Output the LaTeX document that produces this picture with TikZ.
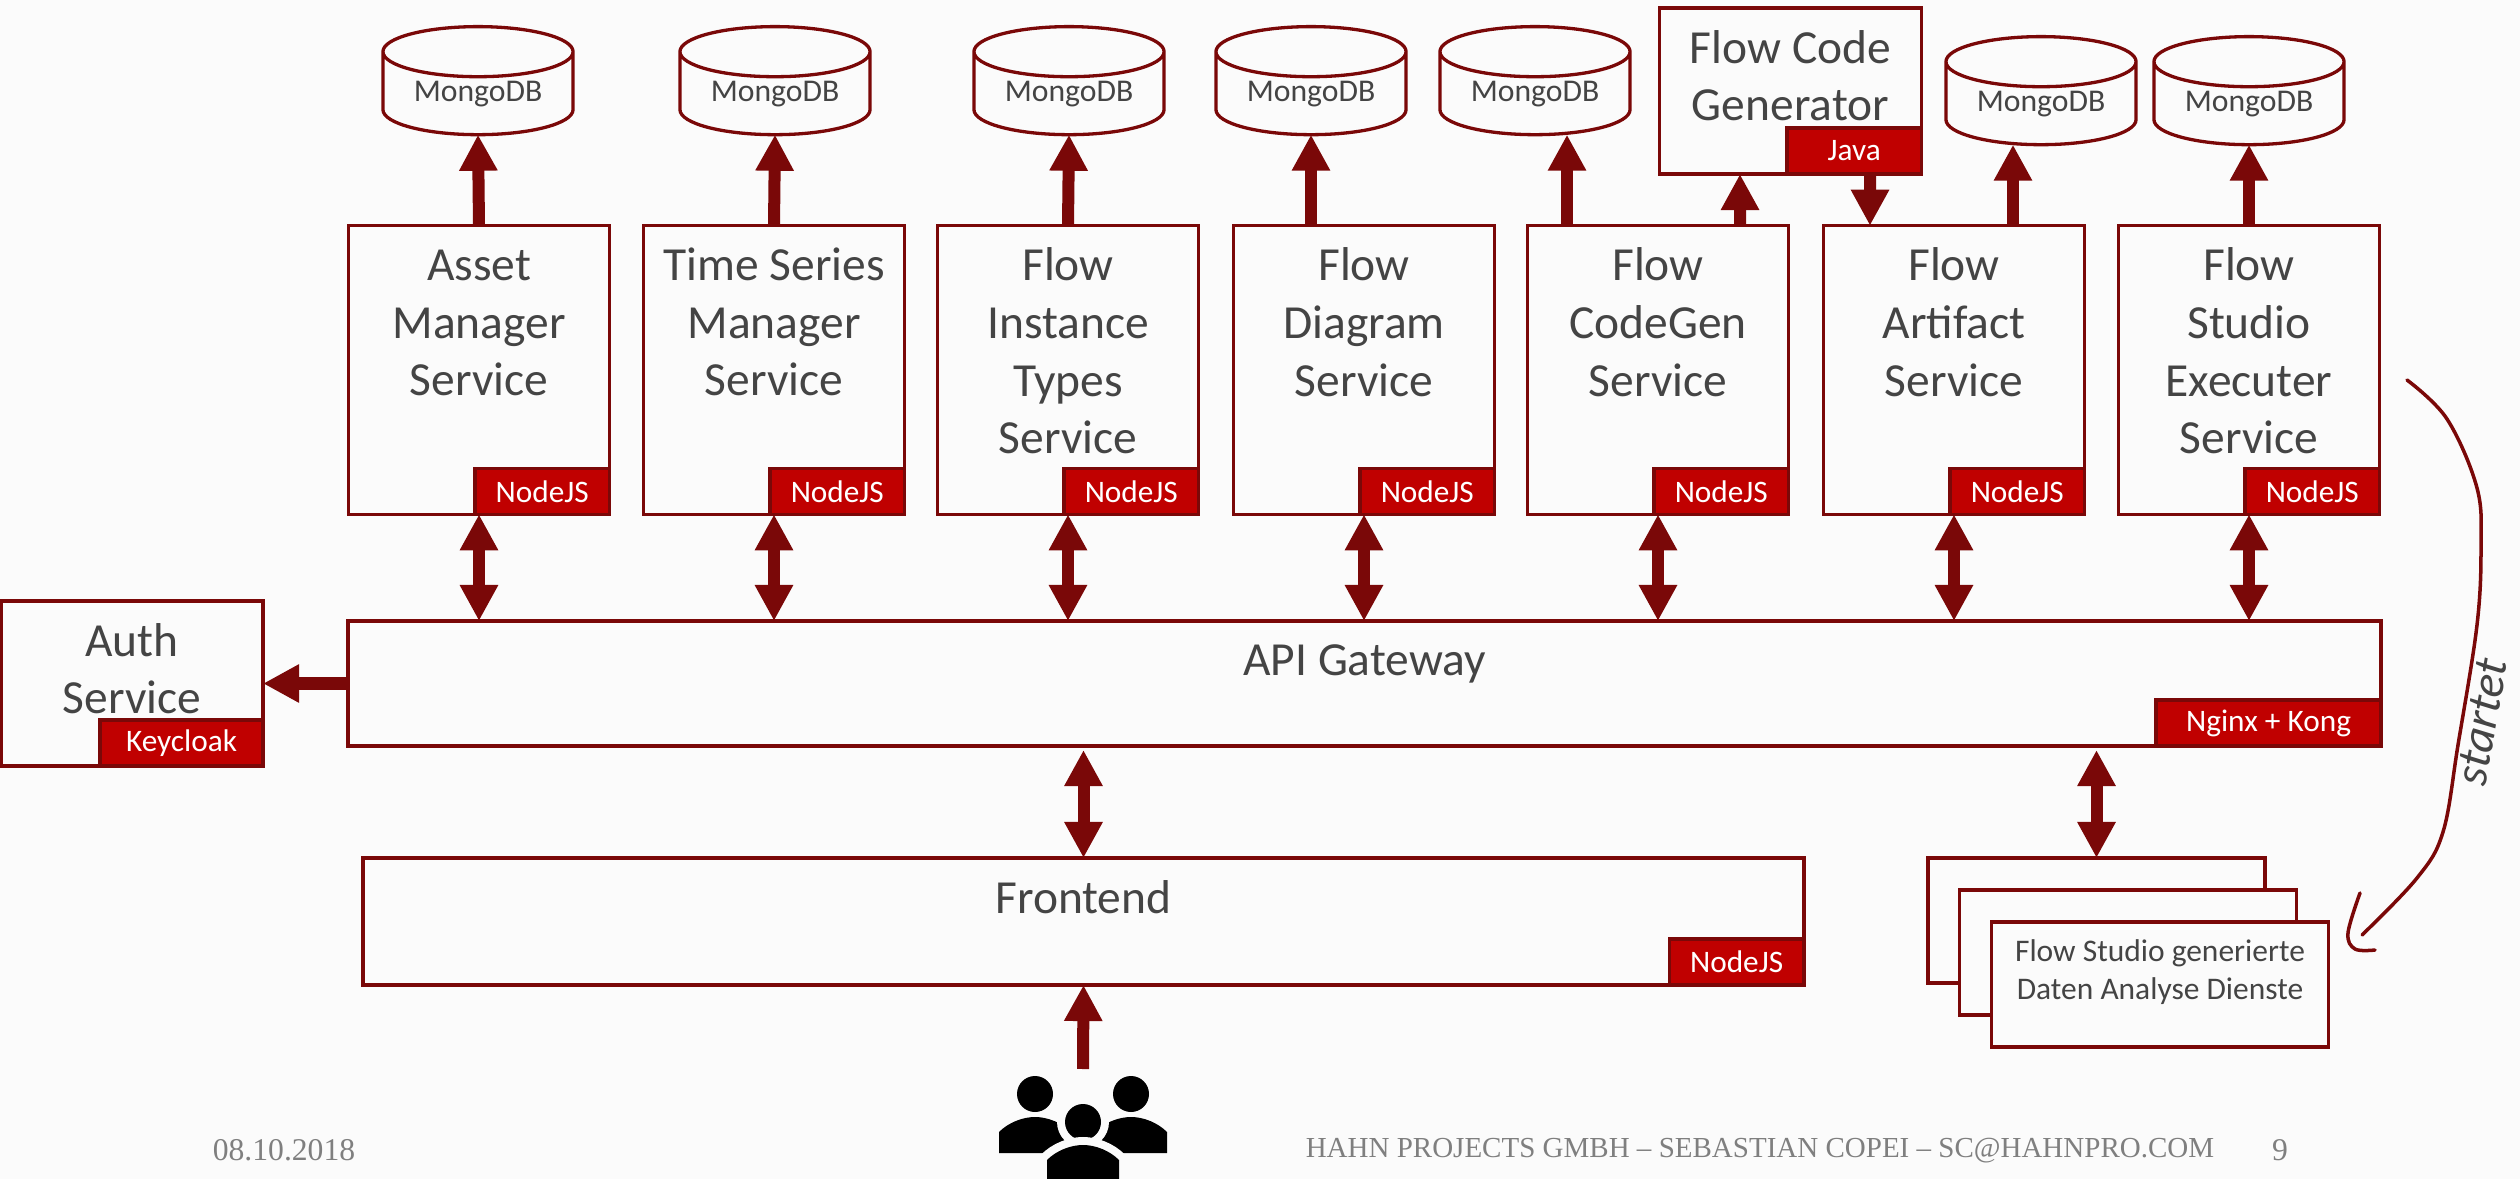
\documentclass[tikz,border=0pt]{standalone}
\usepackage{fontspec}
\setmainfont{Carlito}
\newfontfamily\footfont{Liberation Serif}
\usetikzlibrary{arrows.meta,shapes.geometric}
\definecolor{bgcol}{HTML}{FBFBFB}
\definecolor{darkred}{HTML}{7A0808}
\definecolor{tagred}{HTML}{C00000}
\definecolor{txtcol}{HTML}{444444}
\definecolor{footcol}{HTML}{7F7F7F}
\tikzset{
  box/.style={draw=darkred, line width=.033cm, fill=bgcol, inner sep=0pt, outer sep=0pt},
  svcbox/.style={box, minimum width=2.61cm, minimum height=2.885cm},
  boxtext/.style={text=txtcol, inner sep=0pt, anchor=north, yshift=-.215cm, align=center,
    font=\fontsize{13.5}{16.4}\selectfont, execute at begin node={\rule{0pt}{10pt}}},
  tagbox/.style={draw=darkred, line width=.033cm, fill=tagred, text=white, inner sep=0pt, outer sep=0pt,
    anchor=south east, minimum width=1.345cm, minimum height=.46cm, font=\fontsize{8.9}{11}\selectfont},
  mongo/.style={cylinder, shape border rotate=90, aspect=.39, draw=darkred, line width=.033cm, fill=bgcol,
    minimum width=1.9cm, minimum height=1.08cm, inner sep=0pt, outer sep=0pt, text=txtcol,
    font=\fontsize{9}{11}\selectfont},
  bigarrow/.style={draw=darkred, line width=.12cm},
  foot/.style={text=footcol, inner sep=0pt, font=\footfont\fontsize{9}{11}\selectfont},
}
\begin{document}
\begin{tikzpicture}[>={Triangle[length=.36cm,width=.36cm]}, x=.01cm, y=-.01cm]
	\fill[bgcol] (0,0) rectangle (2520,1179);
	\useasboundingbox (0,0) rectangle (2520,1179);
	% databases
	\node[mongo] (mongoa) at (478,94) {MongoDB};
	\node[mongo] (mongob) at (775,94) {MongoDB};
	\node[mongo] (mongoc) at (1069,94) {MongoDB};
	\node[mongo] (mongod) at (1311,94) {MongoDB};
	\node[mongo] (mongoe) at (1535,94) {MongoDB};
	\node[mongo] (mongof) at (2041,104) {MongoDB};
	\node[mongo] (mongog) at (2249,104) {MongoDB};
	% services
	\node[svcbox] (asset) at (479,370) {};
	\node[svcbox] (timeseries) at (774,370) {};
	\node[svcbox] (instance) at (1068,370) {};
	\node[svcbox] (diagram) at (1364,370) {};
	\node[svcbox] (codegen) at (1658,370) {};
	\node[svcbox] (artifact) at (1954,370) {};
	\node[svcbox] (executer) at (2249,370) {};
	\node[boxtext, yshift=-.02cm] (assettxt) at (asset.north) {Asset\\Manager\\Service};
	\node[boxtext] (timeseriestxt) at (timeseries.north) {Time Series\\Manager\\Service};
	\node[boxtext] (instancetxt) at (instance.north) {Flow\\Instance\\Types\\Service};
	\node[boxtext] (diagramtxt) at (diagram.north) {Flow\\Diagram\\Service};
	\node[boxtext] (codegentxt) at (codegen.north) {Flow\\CodeGen\\Service};
	\node[boxtext] (artifacttxt) at (artifact.north) {Flow\\Artifact\\Service};
	\node[boxtext] (executertxt) at (executer.north) {Flow\\Studio\\Executer\\Service};
	\node[tagbox] (assettag) at (asset.south east) {NodeJS};
	\node[tagbox] (timeseriestag) at (timeseries.south east) {NodeJS};
	\node[tagbox] (instancetag) at (instance.south east) {NodeJS};
	\node[tagbox] (diagramtag) at (diagram.south east) {NodeJS};
	\node[tagbox] (codegentag) at (codegen.south east) {NodeJS};
	\node[tagbox] (artifacttag) at (artifact.south east) {NodeJS};
	\node[tagbox] (executertag) at (executer.south east) {NodeJS};
	% code generator
	\node[box, minimum width=2.62cm, minimum height=1.66cm] (generator) at (1790.5,91) {};
	\node[boxtext] (generatortxt) at (generator.north) {Flow Code\\Generator};
	\node[tagbox] (generatortag) at (generator.south east) {Java};
	% gateway, auth, frontend
	\node[box, minimum width=20.32cm, minimum height=1.25cm] (api) at (1364.5,683.5) {};
	\node[boxtext, yshift=.03cm] (apitxt) at (api.north) {API Gateway};
	\node[tagbox, minimum width=2.25cm] (apitag) at (api.south east) {Nginx + Kong};
	\node[box, minimum width=2.62cm, minimum height=1.65cm] (auth) at (132,683.5) {};
	\node[boxtext] (authtxt) at (auth.north) {Auth\\Service};
	\node[tagbox, minimum width=1.63cm] (authtag) at (auth.south east) {Keycloak};
	\node[box, minimum width=14.4cm, minimum height=1.27cm] (frontend) at (1083.5,921.5) {};
	\node[boxtext, yshift=.015cm] (frontendtxt) at (frontend.north) {Frontend};
	\node[tagbox] (frontendtag) at (frontend.south east) {NodeJS};
	% generated services
	\node[box, minimum width=3.37cm, minimum height=1.25cm] (studioback) at (2096.5,920.5) {};
	\node[box, minimum width=3.37cm, minimum height=1.25cm] (studiomid) at (2128,952.5) {};
	\node[box, minimum width=3.37cm, minimum height=1.25cm] (studiofront) at (2160,984.5) {};
	\node[text=txtcol, inner sep=0pt, align=center, font=\fontsize{8.95}{11}\selectfont] (studiotxt) at (2160,972) {Flow Studio generierte\\Daten Analyse Dienste};
	% arrows to databases
	\draw[bigarrow,->] (asset.north) -- (mongoa.south);
	\draw[bigarrow,->] (timeseries.north) -- (mongob.south);
	\draw[bigarrow,->] (instance.north) -- (mongoc.south);
	\draw[bigarrow,->] (mongod.south |- diagram.north) -- (mongod.south);
	\draw[bigarrow,->] ([xshift=.32cm]mongoe.south |- codegen.north) -- ([xshift=.32cm]mongoe.south);
	\draw[bigarrow,->] ([xshift=-.28cm]mongof.south |- artifact.north) -- ([xshift=-.28cm]mongof.south);
	\draw[bigarrow,->] (executer.north) -- (mongog.south);
	\draw[bigarrow,->] ([xshift=.82cm]codegen.north) -- ([xshift=-.505cm]generator.south);
	\draw[bigarrow,->] ([xshift=.795cm]generator.south) -- ([xshift=-.84cm]artifact.north);
	% arrows to gateway
	\draw[bigarrow,<->] (asset.south) -- (asset.south |- api.north);
	\draw[bigarrow,<->] (timeseries.south) -- (timeseries.south |- api.north);
	\draw[bigarrow,<->] (instance.south) -- (instance.south |- api.north);
	\draw[bigarrow,<->] (diagram.south) -- (diagram.south |- api.north);
	\draw[bigarrow,<->] (codegen.south) -- (codegen.south |- api.north);
	\draw[bigarrow,<->] (artifact.south) -- (artifact.south |- api.north);
	\draw[bigarrow,<->] (executer.south) -- (executer.south |- api.north);
	\draw[bigarrow,->] (api.west) -- (auth.east);
	\draw[bigarrow,<->, shorten <=.04cm] (frontend.north |- api.south) -- (frontend.north);
	\draw[bigarrow,<->, shorten <=.04cm] (studioback.north |- api.south) -- (studioback.north);
	\coordinate (users) at (1083,1069);
	\draw[bigarrow,->] (users) -- (frontend.south);
	% hand drawn curve
	\coordinate (curvestart) at (2407,380);
	\coordinate (curveend) at (2362,935);
	\draw[darkred, line width=.035cm, line cap=round] plot[smooth, tension=.6] coordinates {(curvestart) (2447,419) (2477,488) (2481,547) (2477,625) (2458,745) (2443,832) (2417,878) (curveend)};
	\draw[darkred, line width=.035cm, line cap=round] plot[smooth, tension=.6] coordinates {(2360,893) (2348,933) (2355,949) (2375,950)};
	\node[text=txtcol, inner sep=0pt, rotate=80, font=\itshape\fontsize{13.5}{15}\selectfont] (startet) at (2482,722) {startet};
	% users
	\fill[black] (1035,1094) circle (18);
	\fill[black] (1131,1094) circle (18);
	\fill[black] (999,1153) -- (999,1132) .. controls (1008,1123) and (1022,1117) .. (1035,1117) .. controls (1048,1117) and (1062,1123) .. (1071,1132) -- (1071,1153) -- cycle;
	\fill[black] (1095,1153) -- (1095,1132) .. controls (1104,1123) and (1118,1117) .. (1131,1117) .. controls (1144,1117) and (1158,1123) .. (1167,1132) -- (1167,1153) -- cycle;
	\fill[bgcol] (1083,1122) circle (26);
	\fill[black] (1083,1122) circle (18);
	\fill[black, preaction={draw=bgcol, line width=.16cm}] (1047,1185) -- (1047,1160) .. controls (1056,1151) and (1070,1145) .. (1083,1145) .. controls (1096,1145) and (1110,1151) .. (1119,1160) -- (1119,1185) -- cycle;
	% footer
	\node[foot] (footdate) at (284,1150) {08.10.2018};
	\node[foot, font=\footfont\fontsize{8.25}{11}\selectfont] (footname) at (1760,1151) {HAHN PROJECTS GMBH – SEBASTIAN COPEI – SC@HAHNPRO.COM};
	\node[foot] (footpage) at (2280,1150) {9};
\end{tikzpicture}
\end{document}
